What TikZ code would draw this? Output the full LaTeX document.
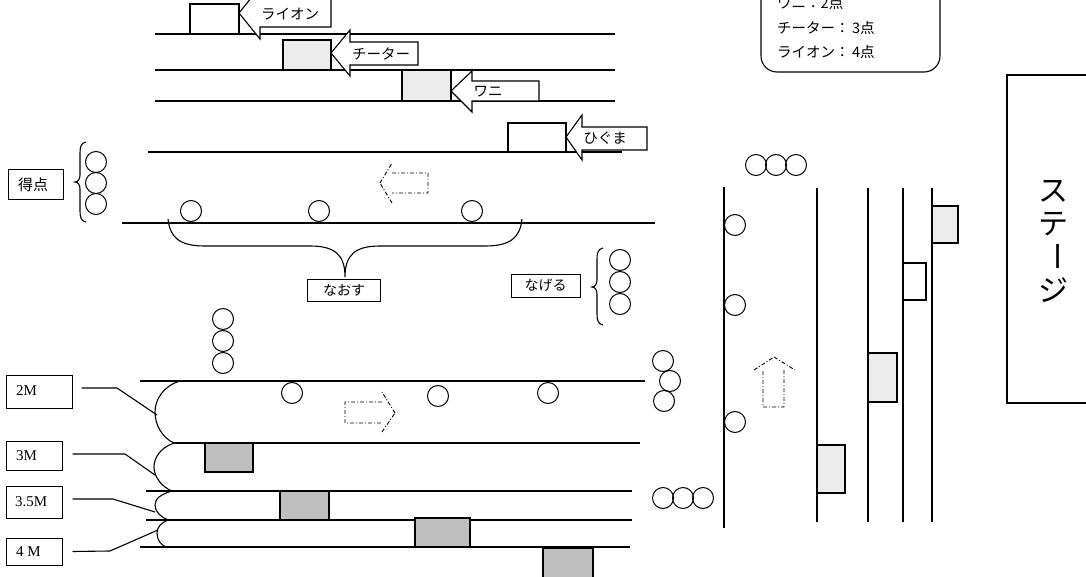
\documentclass[tikz,border=0pt]{standalone}
\usepackage{fontspec}
\setmainfont{Liberation Serif}
\newfontfamily\jp{Noto Sans CJK JP}
\begin{document}
\begin{tikzpicture}[x=1pt,y=-1pt,
  lane/.style={line width=1.1pt},
  heavy/.style={line width=2.8pt},
  ball/.style={circle,draw,line width=1pt,minimum size=21pt,inner sep=0pt},
  lgray/.style={draw,line width=1.1pt,fill=gray!15},
  dgray/.style={draw,line width=1.1pt,fill=gray!50},
  blockarr/.style={draw,line width=1.1pt,fill=white,line join=miter},
  dasharr/.style={line width=0.9pt,dash pattern=on 4pt off 2pt on 1pt off 2pt},
  jl/.style={font=\jp\fontsize{14.5}{16}\selectfont,inner sep=0pt},
  lab/.style={draw,line width=1pt,inner sep=0pt},
  sl/.style={font=\fontsize{15}{17}\selectfont,inner sep=0pt,anchor=west},
  stg/.style={font=\jp\fontsize{30}{32}\selectfont,inner sep=0pt}]
\useasboundingbox (0,0) rectangle (1086,577);
\clip (0,0) rectangle (1086,577);

% ---------- top lanes ----------
\draw[lane] (155,34) -- (615,34);
\draw[lane] (155,70) -- (615,70);
\draw[lane] (155,101) -- (615,101);
\draw[lane] (148,152) -- (622,152);

\draw[lane,fill=white] (190,4) rectangle (239,34);
\draw[lgray] (283,40) rectangle (331,70);
\draw[lgray] (402,70) rectangle (451,101);
\draw[lane,fill=white] (508,123) rectangle (566,152);

\draw[blockarr] (239,13) -- (260,-13) -- (260,-1) -- (331,-1) -- (331,27) -- (260,27) -- (260,39) -- cycle;
\node[jl] (tlion) at (290,14) {ライオン};
\draw[blockarr] (331,53) -- (350,30) -- (350,42) -- (418,42) -- (418,65) -- (350,65) -- (350,76) -- cycle;
\node[jl] (tcheetah) at (381,54) {チーター};
\draw[blockarr] (451,91) -- (472,71) -- (472,81) -- (539,81) -- (539,101) -- (472,101) -- (472,112) -- cycle;
\node[jl] (twani) at (488,92) {ワニ};
\draw[blockarr] (566,137) -- (582,115) -- (582,127) -- (647,127) -- (647,150) -- (582,150) -- (582,160) -- cycle;
\node[jl] (thiguma) at (605,138) {ひぐま};

% ---------- legend ----------
\draw[line width=1.1pt,rounded corners=16pt] (761,-40) rectangle (940,72);
\node[jl,anchor=west] (lg1) at (777,3) {ワニ：2点};
\node[jl,anchor=west] (lg2) at (777,28) {チーター：\,3点};
\node[jl,anchor=west] (lg3) at (777,52) {ライオン：\,4点};

% ---------- stage ----------
\draw[line width=1.1pt] (1007,75) rectangle (1095,403);
\node[stg] (s1) at (1053,191) {ス};
\node[stg] (s2) at (1053,224) {テ};
\node[stg,rotate=-90] (s3) at (1053,257) {ー};
\node[stg] (s4) at (1053,290) {ジ};

% ---------- middle ----------
\node[lab,minimum width=55pt,minimum height=30pt] (tokuten) at (35.5,185) {};
\node[jl,font=\jp\fontsize{15}{17}\selectfont] (tokutent) at (33,185) {得点};
\draw[lane] (86,142) .. controls (81,143) and (80,147) .. (80,153) -- (80,175) .. controls (80,179) and (78,182) .. (75,182)
  .. controls (78,182) and (80,185) .. (80,189) -- (80,211) .. controls (80,217) and (81,221) .. (86,222);
\node[ball] (k1) at (96,162) {};
\node[ball] (k2) at (96,183) {};
\node[ball] (k3) at (96,204) {};

\draw[heavy] (122,223) -- (655,223);
\node[ball] (a1) at (191,211) {};
\node[ball] (a2) at (319,211) {};
\node[ball] (a3) at (472,211) {};

\draw[dasharr] (380,183) -- (392,163) (392,173) -- (428,173) -- (428,193) -- (392,193) (392,203) -- (380,183);

\coordinate (btip) at (345,277);
\draw[lane] (168,219) .. controls (170,238) and (180,246) .. (205,246) -- (310,246)
  .. controls (335,246) and (345,255) .. (btip) .. controls (345,255) and (355,246) .. (380,246)
  -- (485,246) .. controls (510,246) and (520,238) .. (522,219);
\node[lab,minimum width=73pt,minimum height=22pt,font=\jp\fontsize{14}{16}\selectfont] (naosu) at (344,290) {なおす};

\node[lab,minimum width=69pt,minimum height=23pt,font=\jp\fontsize{14}{16}\selectfont] (nageru) at (545.5,285.5) {なげる};
\draw[lane] (603,248) .. controls (598,249) and (597,253) .. (597,259) -- (597,280) .. controls (597,284) and (595,287) .. (592,287)
  .. controls (595,287) and (597,290) .. (597,294) -- (597,314) .. controls (597,320) and (598,324) .. (603,325);
\node[ball] (n1) at (620,260) {};
\node[ball] (n2) at (620,282) {};
\node[ball] (n3) at (620,304) {};

% ---------- lower lanes ----------
\node[ball] (u1) at (223,319) {};
\node[ball] (u2) at (223,341) {};
\node[ball] (u3) at (223,363) {};

\draw[heavy] (140,381) -- (645,381);
\node[ball] (b1) at (292,393) {};
\node[ball] (b2) at (438,396) {};
\node[ball] (b3) at (548,393) {};
\node[ball] (r1) at (663,361) {};
\node[ball] (r2) at (670,381) {};
\node[ball] (r3) at (664,401) {};

\draw[dasharr] (395,413) -- (382,392) (382,402) -- (345,402) -- (345,423) -- (382,423) (382,432) -- (395,413);

\draw[lane] (174,443) -- (640,443);
\draw[lane] (146,491) -- (632,491);
\draw[lane] (146,520) -- (632,520);
\draw[lane] (140,547) -- (630,547);

\draw[dgray] (205,443) rectangle (253,472);
\draw[dgray] (280,491) rectangle (329,520);
\draw[dgray] (415,518) rectangle (470,547);
\draw[dgray] (543,548) rectangle (593,590);

\node[ball] (h1) at (663,498) {};
\node[ball] (h2) at (683,498) {};
\node[ball] (h3) at (703,498) {};

% lane brackets
\draw[lane] (180,381) .. controls (163,386) and (155,400) .. (155,412) .. controls (155,426) and (163,438) .. (174,443);
\draw[lane] (174,443) .. controls (160,448) and (154,458) .. (154,467) .. controls (154,477) and (162,487) .. (172,491);
\draw[lane] (172,491) .. controls (162,494) and (155,498) .. (155,505) .. controls (155,512) and (161,517) .. (168,520);
\draw[lane] (168,520) .. controls (161,523) and (157,527) .. (157,533) .. controls (157,540) and (161,545) .. (166,547);
\coordinate (e2) at (157,415);
\coordinate (e3) at (155,475);
\coordinate (e35) at (155,512);
\coordinate (e4) at (158,530);

% labels
\node[lab,minimum width=66pt,minimum height=33pt] (m2) at (39,391.5) {};
\node[sl] (m2t) at (16,391) {2M};
\node[lab,minimum width=56pt,minimum height=29pt] (m3) at (34,455.5) {};
\node[sl] (m3t) at (16,456) {3M};
\node[lab,minimum width=56pt,minimum height=32pt] (m35) at (34,502) {};
\node[sl] (m35t) at (15,502) {3.5M};
\node[lab,minimum width=56pt,minimum height=27pt] (m4) at (34,551.5) {};
\node[sl] (m4t) at (16,552) {4 M};

\draw[lane] ([xshift=9pt,yshift=3.5pt]m2.east) -- (117,388) -- (e2);
\draw[lane] ([xshift=10pt,yshift=1.5pt]m3.east) -- (125,454) -- (e3);
\draw[lane] ([xshift=10pt,yshift=3pt]m35.east) -- (113,499) -- (e35);
\draw[lane] ([xshift=10pt]m4.east) -- (110,551) -- (e4);

% ---------- right section ----------
\node[ball] (t1) at (756,165) {};
\node[ball] (t2) at (776,165) {};
\node[ball] (t3) at (796,165) {};
\draw[line width=2.6pt] (724,187) -- (724,528);
\node[ball] (v1) at (735,225) {};
\node[ball] (v2) at (735,305) {};
\node[ball] (v3) at (735,422) {};
\draw[dasharr] (774,357) -- (795,370) (784,370) -- (784,407) -- (763,407) -- (763,370) (754,370) -- (774,357);

\draw[line width=1.2pt] (817,188) -- (817,522);
\draw[line width=1.2pt] (868,188) -- (868,522);
\draw[line width=1.2pt] (903,188) -- (903,522);
\draw[line width=1.2pt] (932,188) -- (932,522);
\draw[lgray] (817,445) rectangle (845,493);
\draw[lgray] (868,353) rectangle (897,402);
\draw[lane,fill=white] (903,263) rectangle (926,300);
\draw[lgray] (932,206) rectangle (958,243);
\end{tikzpicture}
\end{document}
